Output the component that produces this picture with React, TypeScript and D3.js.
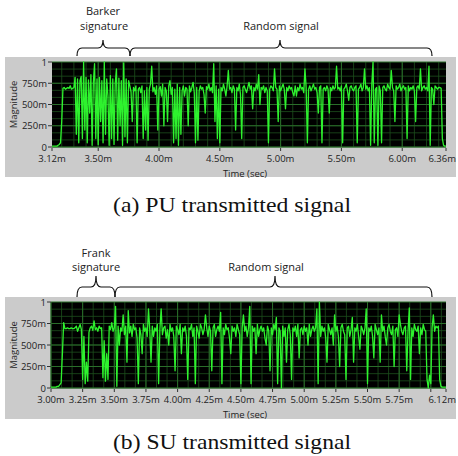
import React from 'react';
import * as d3 from 'd3';

// PU transmitted signal, sampled every 10 us from 3.12 ms
const puStart = 3.12;
const puStep = 0.01;
const puMagnitude = [
  0.01, 0.01, 0.01, 0.01, 0.01, 0.02, 0.03, 0.05, 0.3, 0.69,
  0.7, 0.68, 0.69, 0.7, 0.69, 0.72, 0.68, 0.69, 0.7, 0.82,
  0.15, 0.8, 0.05, 0.78, 0.83, 0.1, 1.0, 0.2, 0.82, 0.05,
  0.79, 0.4, 0.85, 0.02, 0.76, 0.98, 0.1, 0.8, 0.03, 0.82,
  0.3, 0.78, 0.05, 1.0, 0.15, 0.8, 0.6, 0.02, 0.84, 0.1,
  0.8, 0.03, 0.75, 0.92, 0.08, 0.81, 0.25, 0.78, 0.02, 0.99,
  0.12, 0.8, 0.05, 0.78, 0.72, 0.65, 0.3, 0.7, 0.66, 0.72,
  0.05, 0.68, 0.7, 0.64, 0.72, 0.1, 0.66, 0.2, 0.7, 0.08,
  0.68, 0.74, 0.95, 0.65, 0.7, 0.62, 0.72, 0.2, 0.68, 0.71,
  0.6, 0.74, 0.25, 0.7, 0.66, 0.3, 0.72, 0.78, 0.62, 0.7,
  0.05, 0.68, 0.1, 0.74, 0.02, 0.7, 0.15, 0.66, 0.72, 0.6,
  0.7, 0.68, 0.25, 0.72, 0.65, 0.7, 0.76, 0.64, 0.05, 0.7,
  0.08, 0.66, 0.72, 0.68, 0.7, 0.62, 0.4, 0.71, 0.68, 0.74,
  0.66, 0.7, 0.64, 0.98, 0.3, 0.72, 0.1, 0.68, 0.05, 0.7,
  0.66, 0.74, 0.68, 0.6, 0.72, 0.9, 0.68, 0.7, 0.64, 0.72,
  0.68, 0.2, 0.7, 0.66, 0.74, 0.62, 0.1, 0.7, 0.72, 0.68,
  0.64, 0.7, 0.76, 0.68, 0.72, 0.45, 0.7, 0.66, 0.74, 0.68,
  0.85, 0.5, 0.7, 0.68, 0.72, 0.64, 0.7, 0.66, 0.05, 0.68,
  0.72, 0.7, 0.66, 0.92, 0.7, 0.68, 0.3, 0.72, 0.66, 0.7,
  0.74, 0.68, 0.45, 0.7, 0.66, 0.72, 0.68, 0.7, 0.64, 0.6,
  0.72, 0.6, 0.7, 0.66, 0.74, 0.68, 0.7, 0.64, 0.92, 0.7,
  0.05, 0.68, 0.72, 0.66, 0.7, 0.74, 0.68, 0.7, 0.64, 0.4,
  0.7, 0.72, 0.05, 0.68, 0.7, 0.66, 0.72, 0.68, 0.4, 0.7,
  0.66, 0.72, 0.68, 0.7, 0.95, 0.68, 0.7, 0.66, 0.72, 0.05,
  0.68, 0.7, 0.74, 0.66, 0.55, 0.7, 0.72, 0.68, 0.66, 0.7,
  0.72, 0.05, 0.68, 0.7, 0.74, 0.66, 0.7, 0.92, 0.68, 0.72,
  0.66, 0.7, 0.02, 0.74, 1.0, 0.05, 0.68, 0.7, 0.02, 0.72,
  0.66, 0.05, 0.7, 0.72, 0.68, 0.66, 0.74, 0.7, 0.68, 0.9,
  0.7, 0.66, 0.3, 0.72, 0.68, 0.7, 0.74, 0.66, 0.7, 0.72,
  0.68, 0.7, 0.1, 0.72, 0.66, 0.7, 0.68, 0.72, 0.66, 0.3,
  0.7, 0.72, 0.68, 0.92, 0.66, 0.7, 0.72, 0.68, 0.7, 0.66,
  0.95, 0.02, 0.7, 0.68, 0.5, 0.72, 0.7, 0.68, 0.7, 0.7,
  0.69, 0.1, 0.02, 0.01, 0.01,
];

// SU transmitted signal, sampled every 10 us from 3.00 ms
const suStart = 3.0;
const suStep = 0.01;
const suMagnitude = [
  0.01, 0.01, 0.01, 0.01, 0.01, 0.02, 0.02, 0.04, 0.06, 0.4,
  0.76, 0.69, 0.69, 0.7, 0.69, 0.69, 0.7, 0.69, 0.69, 0.7,
  0.72, 0.66, 0.7, 0.74, 0.68, 0.1, 0.6, 0.05, 0.3, 0.08,
  0.65, 0.7, 0.72, 0.67, 0.78, 0.68, 0.7, 0.66, 0.72, 0.69,
  0.7, 0.12, 0.55, 0.08, 0.4, 0.1, 0.72, 0.68, 0.76, 0.66,
  0.7, 0.95, 0.02, 0.72, 0.5, 0.7, 0.66, 0.85, 0.62, 0.72,
  0.3, 0.9, 0.64, 0.72, 0.6, 0.74, 0.68, 0.7, 0.58, 0.05,
  0.7, 0.62, 0.4, 0.74, 0.66, 0.7, 0.6, 0.92, 0.68, 0.3,
  0.72, 0.6, 0.7, 0.66, 0.74, 0.05, 0.68, 0.92, 0.62, 0.7,
  0.72, 0.58, 0.68, 0.5, 0.74, 0.66, 0.7, 0.6, 0.2, 0.72,
  0.68, 0.62, 0.74, 0.4, 0.7, 0.66, 0.72, 0.6, 0.1, 0.7,
  0.68, 0.74, 0.6, 0.7, 0.05, 0.72, 0.66, 0.58, 0.74, 0.7,
  0.62, 0.68, 0.85, 0.7, 0.6, 0.72, 0.66, 0.2, 0.7, 0.74,
  0.6, 0.68, 0.72, 0.66, 0.88, 0.05, 0.7, 0.62, 0.74, 0.68,
  0.7, 0.58, 0.4, 0.72, 0.66, 0.7, 0.6, 0.74, 0.68, 0.62,
  0.05, 0.7, 0.85, 0.66, 0.72, 0.6, 0.7, 0.95, 0.05, 0.72,
  0.66, 0.7, 0.4, 0.74, 0.6, 0.68, 0.72, 0.66, 0.7, 0.58,
  0.5, 0.72, 0.66, 0.2, 0.7, 0.62, 0.74, 0.68, 0.82, 0.05,
  0.7, 0.66, 0.0, 0.72, 0.6, 0.7, 0.3, 0.68, 0.74, 0.62,
  0.1, 0.7, 0.66, 0.72, 0.6, 0.74, 0.35, 0.68, 0.7, 0.62,
  0.72, 0.66, 0.7, 0.5, 0.74, 0.6, 0.68, 0.72, 0.66, 0.7,
  0.92, 0.05, 1.0, 0.6, 0.72, 0.66, 0.7, 0.58, 0.3, 0.74,
  0.68, 0.62, 0.7, 0.5, 0.85, 0.66, 0.72, 0.6, 0.25, 0.7,
  0.74, 0.66, 0.62, 0.1, 0.7, 0.72, 0.6, 0.68, 0.82, 0.3,
  0.7, 0.66, 0.74, 0.6, 0.45, 0.72, 0.68, 0.62, 0.7, 0.92,
  0.05, 0.7, 0.66, 0.72, 0.6, 0.35, 0.74, 0.68, 0.62, 0.7,
  0.3, 0.85, 0.66, 0.72, 0.6, 0.5, 0.7, 0.74, 0.66, 0.62,
  0.72, 0.25, 0.68, 0.7, 0.6, 0.85, 0.74, 0.66, 0.62, 0.7,
  0.72, 0.2, 0.66, 0.93, 0.1, 0.7, 0.6, 0.74, 0.68, 0.66,
  0.72, 0.4, 0.7, 0.62, 0.74, 0.68, 0.66, 0.1, 0.0, 0.15,
  0.05, 0.7, 0.85, 0.66, 0.72, 0.7, 0.72, 0.1, 0.02, 0.01,
  0.01, 0.01, 0.01,
];

const yTicks = [0, 0.25, 0.5, 0.75, 1];
const yTickLabels = ['0', '250m', '500m', '750m', '1'];
const puXTicks = [3.12, 3.5, 4, 4.5, 5, 5.5, 6, 6.36];
const suXTicks = [3, 3.25, 3.5, 3.75, 4, 4.25, 4.5, 4.75, 5, 5.25, 5.5, 5.75, 6.12];
const suUnlabelledTicks = [6];

const uiFont = '"Open Sans", "DejaVu Sans", sans-serif';
const green = '#2ef22e';
const gridColor = '#1d4f1d';

function Brace({ x1, x2, xm, yTip, yMid, yEnd }) {
  const r = 5;
  const d = `M${x1},${yEnd} Q${x1},${yMid} ${x1 + r},${yMid} L${xm - r},${yMid} Q${xm},${yMid} ${xm},${yTip}` +
    ` Q${xm},${yMid} ${xm + r},${yMid} L${x2 - r},${yMid} Q${x2},${yMid} ${x2},${yEnd}`;
  return <path d={d} fill="none" stroke="#111" strokeWidth={1.2} />;
}

function SignalGraph({ panelTop, panelBottom, plot, values, start, step, domain, ticks, extraTicks = [], majorStep, minorStep }) {
  const x = d3.scaleLinear().domain(domain).range([plot.left, plot.right]);
  const y = d3.scaleLinear().domain([0, 1]).range([plot.bottom, plot.top]);
  const points = values.map((v, i) => [start + i * step, v]);
  const line = d3.line().x(d => x(d[0])).y(d => y(d[1]));

  const eps = 1e-6;
  const minorX = d3.range(Math.ceil(domain[0] / minorStep - eps) * minorStep, domain[1], minorStep);
  const majorX = d3.range(Math.ceil(domain[0] / majorStep - eps) * majorStep, domain[1], majorStep);
  const minorY = d3.range(0, 1, 0.25 / 3);
  const lastTick = ticks.length - 1;

  return (
    <g>
      <rect x={5} y={panelTop} width={451} height={panelBottom - panelTop} fill="#cbcbcb" />
      <rect x={plot.left} y={plot.top} width={plot.right - plot.left} height={plot.bottom - plot.top} fill="#000" />
      {minorX.map((t, i) => (
        <line key={'mx' + i} x1={x(t)} x2={x(t)} y1={plot.top} y2={plot.bottom} stroke={gridColor} strokeWidth={0.8} />
      ))}
      {minorY.map((v, i) => (
        <line key={'my' + i} x1={plot.left} x2={plot.right} y1={y(v)} y2={y(v)} stroke={gridColor} strokeWidth={0.8} />
      ))}
      {majorX.map((t, i) => (
        <line key={'jx' + i} x1={x(t)} x2={x(t)} y1={plot.top} y2={plot.bottom} stroke="#2a6e2a" strokeWidth={1} />
      ))}
      {yTicks.map((v, i) => (
        <line key={'jy' + i} x1={plot.left} x2={plot.right} y1={y(v)} y2={y(v)} stroke="#2a6e2a" strokeWidth={1} />
      ))}
      <path d={line(points)} fill="none" stroke={green} strokeWidth={1.3} strokeLinejoin="round" />

      {yTicks.map((v, i) => (
        <g key={'yt' + i}>
          <line x1={plot.left - 4} x2={plot.left} y1={y(v)} y2={y(v)} stroke="#333" />
          <text x={plot.left - 5} y={y(v) + 3.5} textAnchor="end" fontSize={9.5} fontFamily={uiFont} fill="#222">
            {yTickLabels[i]}
          </text>
        </g>
      ))}
      {ticks.concat(extraTicks).map((t, i) => (
        <line key={'xtm' + i} x1={x(t)} x2={x(t)} y1={plot.bottom + 1} y2={plot.bottom + 4} stroke="#333" />
      ))}
      {ticks.map((t, i) => (
        <text key={'xt' + i} x={i === lastTick ? 456 : x(t)} y={plot.bottom + 15}
          textAnchor={i === lastTick ? 'end' : 'middle'} fontSize={9.5} fontFamily={uiFont} fill="#222">
          {t.toFixed(2) + 'm'}
        </text>
      ))}
      <text x={245} y={plot.bottom + 29.5} textAnchor="middle" fontSize={9.5} fontFamily={uiFont} fill="#222">
        Time (sec)
      </text>
      <text transform={`translate(17,${(plot.top + plot.bottom) / 2}) rotate(-90)`} textAnchor="middle"
        fontSize={9.5} fontFamily={uiFont} fill="#222">
        Magnitude
      </text>
    </g>
  );
}

export default function App() {
  return (
    <svg width={458} height={456} style={{ position: 'absolute', left: 0, top: 0, background: '#fff' }}>
      <text x={103} y={15} textAnchor="middle" fontSize={11} fontFamily={uiFont} fill="#222">Barker</text>
      <text x={104} y={30} textAnchor="middle" fontSize={11} fontFamily={uiFont} fill="#222">signature</text>
      <text x={281} y={30} textAnchor="middle" fontSize={11} fontFamily={uiFont} fill="#222">Random signal</text>
      <Brace x1={77} x2={130} xm={103} yTip={40} yMid={48} yEnd={56} />
      <Brace x1={130} x2={432} xm={280} yTip={40} yMid={48} yEnd={56} />

      <SignalGraph
        panelTop={57} panelBottom={177}
        plot={{ left: 52, right: 446, top: 62, bottom: 147 }}
        values={puMagnitude} start={puStart} step={puStep}
        domain={[3.12, 6.36]} ticks={puXTicks}
        majorStep={0.5} minorStep={0.1}
      />
      <text x={232} y={212} textAnchor="middle" fontSize={21} fontFamily='"Liberation Serif", serif' fill="#111"
        textLength={238} lengthAdjust="spacingAndGlyphs">
        (a) PU transmitted signal
      </text>

      <text x={96} y={257} textAnchor="middle" fontSize={11} fontFamily={uiFont} fill="#222">Frank</text>
      <text x={96} y={271} textAnchor="middle" fontSize={11} fontFamily={uiFont} fill="#222">signature</text>
      <text x={266} y={271} textAnchor="middle" fontSize={11} fontFamily={uiFont} fill="#222">Random signal</text>
      <Brace x1={77} x2={115} xm={96} yTip={276} yMid={287} yEnd={297} />
      <Brace x1={115} x2={432} xm={275} yTip={276} yMid={287} yEnd={297} />

      <SignalGraph
        panelTop={297} panelBottom={419}
        plot={{ left: 51, right: 446, top: 302, bottom: 388 }}
        values={suMagnitude} start={suStart} step={suStep}
        domain={[3.0, 6.12]} ticks={suXTicks} extraTicks={suUnlabelledTicks}
        majorStep={0.25} minorStep={0.25 / 3}
      />
      <text x={232} y={449} textAnchor="middle" fontSize={21} fontFamily='"Liberation Serif", serif' fill="#111"
        textLength={238} lengthAdjust="spacingAndGlyphs">
        (b) SU transmitted signal
      </text>
    </svg>
  );
}
